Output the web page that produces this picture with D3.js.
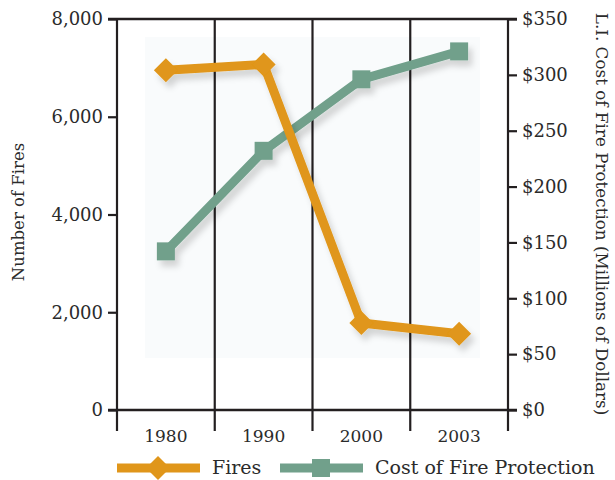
<!DOCTYPE html>
<html><head><meta charset="utf-8">
<script src="https://cdn.jsdelivr.net/npm/d3@7/dist/d3.min.js"></script>
<style>
html,body{margin:0;padding:0;background:#fff;}
svg{display:block;}
text{font-family:"DejaVu Serif",serif;fill:#2b2b2b;}
</style></head>
<body>
<svg id="chart" width="615" height="480"></svg>
<script>
const years = ["1980","1990","2000","2003"];
const fires = [6950, 7070, 1780, 1560];
const cost = [142, 232, 296, 321];
const fireTicks = [0, 2000, 4000, 6000, 8000];
const costTicks = [0, 50, 100, 150, 200, 250, 300, 350];
const leftTitle = "Number of Fires";
const rightTitle = "L.I. Cost of Fire Protection (Millions of Dollars)";
const legendLabels = ["Fires", "Cost of Fire Protection"];

const ORANGE = "#e0961a", GREEN = "#71a08b", INK = "#231f20";
const svg = d3.select("#chart");
const L = 117, R = 508, T = 19, B = 410;

const x = d3.scaleBand().domain(years).range([L, R]);
const yF = d3.scaleLinear().domain([0, 8000]).range([B, T]);
const yC = d3.scaleLinear().domain([0, 350]).range([B, T]);

const defs = svg.append("defs");
const f = defs.append("filter").attr("id","sh").attr("x","-20%").attr("y","-20%").attr("width","140%").attr("height","140%");
f.append("feDropShadow").attr("dx",4).attr("dy",6).attr("stdDeviation",3).attr("flood-color","#000").attr("flood-opacity",0.16);

// light panel
svg.append("rect").attr("x",145).attr("y",37).attr("width",335).attr("height",321).attr("fill","#f9fbfc");

// vertical grid/band lines
const bounds = years.map(d => x(d)).concat([R]);
svg.append("g").selectAll("line").data(bounds).join("line")
  .attr("x1", d=>d).attr("x2", d=>d).attr("y1", T).attr("y2", 431)
  .attr("stroke", INK).attr("stroke-width", 2.2);

// left axis
const ax = svg.append("g").attr("transform",`translate(${L},0)`)
  .call(d3.axisLeft(yF).tickValues(fireTicks).tickSize(9).tickPadding(5).tickFormat(d3.format(",")));
// right axis
const ar = svg.append("g").attr("transform",`translate(${R},0)`)
  .call(d3.axisRight(yC).tickValues(costTicks).tickSize(9).tickPadding(5).tickFormat(d => "$" + d));
[ax, ar].forEach(g => {
  g.select(".domain").remove();
  g.selectAll(".tick line").attr("stroke", INK).attr("stroke-width", 2.2);
  g.selectAll(".tick text").attr("font-size", 18).attr("fill","#2b2b2b").style("font-family","DejaVu Serif");
});
// top & bottom lines
svg.append("line").attr("x1",L-9).attr("x2",R+9).attr("y1",T).attr("y2",T).attr("stroke",INK).attr("stroke-width",2.4);
svg.append("line").attr("x1",L-9).attr("x2",R+9).attr("y1",B).attr("y2",B).attr("stroke",INK).attr("stroke-width",2.4);

// x labels
svg.append("g").selectAll("text").data(years).join("text")
  .attr("x", d => x(d) + x.bandwidth()/2).attr("y", 442)
  .attr("text-anchor","middle").attr("font-size",17).text(d=>d);

// axis titles
svg.append("text").attr("transform",`translate(24,212) rotate(-90)`).attr("text-anchor","middle")
  .attr("font-size",16.5).text(leftTitle);
svg.append("text").attr("transform",`translate(596,214) rotate(90)`).attr("text-anchor","middle")
  .attr("font-size",16.8).text(rightTitle);

const cx = d => x(d) + x.bandwidth()/2;
const lineF = d3.line().x((d,i)=>cx(years[i])).y(d=>yF(d));
const lineC = d3.line().x((d,i)=>cx(years[i])).y(d=>yC(d));

const gC = svg.append("g").attr("filter","url(#sh)");
gC.append("path").attr("d", lineC(cost)).attr("fill","none").attr("stroke",GREEN).attr("stroke-width",9);
gC.selectAll("rect").data(cost).join("rect")
  .attr("x",(d,i)=>cx(years[i])-9).attr("y",d=>yC(d)-9).attr("width",18).attr("height",18).attr("fill",GREEN);

const gF = svg.append("g").attr("filter","url(#sh)");
gF.append("path").attr("d", lineF(fires)).attr("fill","none").attr("stroke",ORANGE).attr("stroke-width",9).attr("stroke-linejoin","round");
const diamond = (cx0, cy0, w, h) => `M${cx0},${cy0-h/2}L${cx0+w/2},${cy0}L${cx0},${cy0+h/2}L${cx0-w/2},${cy0}Z`;
gF.selectAll("path.m").data(fires).join("path").attr("class","m")
  .attr("d",(d,i)=>diamond(cx(years[i]), yF(d), 24, 24)).attr("fill",ORANGE);

// legend
const ly = 468;
svg.append("line").attr("x1",117).attr("x2",200).attr("y1",ly).attr("y2",ly).attr("stroke",ORANGE).attr("stroke-width",9);
svg.append("path").attr("d",diamond(158, ly, 24, 24)).attr("fill",ORANGE);
svg.append("text").attr("x",212).attr("y",ly+6).attr("font-size",19).text(legendLabels[0]);
svg.append("line").attr("x1",280).attr("x2",363).attr("y1",ly).attr("y2",ly).attr("stroke",GREEN).attr("stroke-width",9);
svg.append("rect").attr("x",312).attr("y",ly-9).attr("width",18).attr("height",18).attr("fill",GREEN);
svg.append("text").attr("x",375).attr("y",ly+6).attr("font-size",19).text(legendLabels[1]);
</script>
</body></html>
